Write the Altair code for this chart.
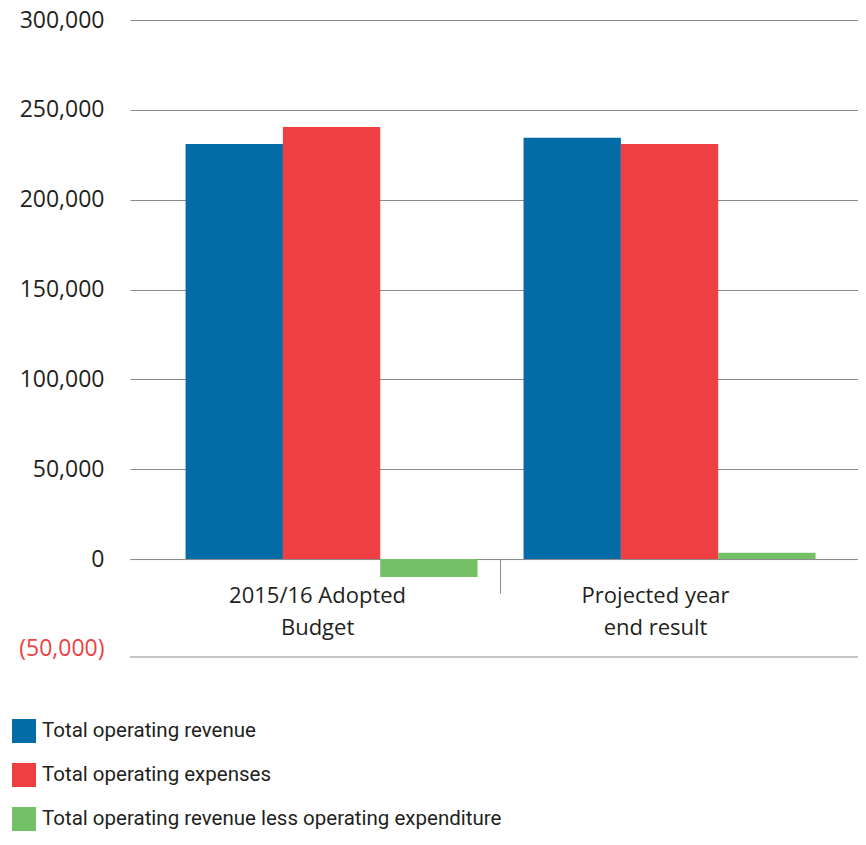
import altair as alt
import pandas as pd

CATEGORIES = ["2015/16 Adopted\nBudget", "Projected year\nend result"]
SERIES = [
    "Total operating revenue",
    "Total operating expenses",
    "Total operating revenue less operating expenditure",
]
COLORS = ["#036BA5", "#EE3F43", "#74C067"]
REVENUE = [231000, 234500]
EXPENSES = [240500, 231000]
NET = [-10000, 3500]
Y_TICKS = [-50000, 0, 50000, 100000, 150000, 200000, 250000, 300000]
Y_MIN = -54500
Y_MAX = 300000

rows = []
for i, c in enumerate(CATEGORIES):
    for s, vals in zip(SERIES, [REVENUE, EXPENSES, NET]):
        rows.append({"category": c, "series": s, "value": vals[i]})
df = pd.DataFrame(rows)

W, H = 728, 637
GRID = "#8c8c8c"
TEXT = "#231F20"
AXIS_FONT = "Open Sans"
LEGEND_FONT = "Roboto"

zero_offset = -(0 - Y_MIN) / (Y_MAX - Y_MIN) * H

y_scale = alt.Scale(domain=[Y_MIN, Y_MAX], nice=False, zero=False)

bars = alt.Chart(df).mark_bar().encode(
    x=alt.X(
        "category:N",
        sort=CATEGORIES,
        scale=alt.Scale(paddingInner=0.136, paddingOuter=0.145, align=0.567),
        axis=alt.Axis(
            title=None,
            orient="bottom",
            offset=zero_offset,
            domainColor=GRID,
            domainWidth=1,
            tickColor=GRID,
            tickWidth=1,
            tickSize=34,
            bandPosition=-0.0788,
            tickOpacity={"condition": {"test": "datum.index == 0", "value": 0}, "value": 1},
            labelExpr="split(datum.label, '\\n')",
            labelOffset=-14,
            labelPadding=-8,
            labelAngle=0,
            labelFont=AXIS_FONT,
            labelFontSize=22,
            labelLineHeight=32,
            labelColor=TEXT,
            grid=False,
        ),
    ),
    xOffset=alt.XOffset("series:N", sort=SERIES),
    y=alt.Y(
        "value:Q",
        scale=y_scale,
        axis=alt.Axis(
            title=None,
            values=Y_TICKS,
            labelExpr="datum.value < 0 ? '(' + format(-datum.value, ',') + ')' : format(datum.value, ',')",
            labelColor={"condition": {"test": "datum.value < 0", "value": "#EE3F43"}, "value": TEXT},
            gridOpacity={"condition": {"test": "datum.value < 0", "value": 0}, "value": 1},
            gridColor=GRID,
            gridWidth=1,
            domain=False,
            ticks=False,
            labelPadding=26,
            labelFont=AXIS_FONT,
            labelFontSize=23,
        ),
    ),
    color=alt.Color(
        "series:N",
        sort=SERIES,
        scale=alt.Scale(domain=SERIES, range=COLORS),
        legend=alt.Legend(
            title=None,
            orient="none",
            legendX=-118,
            legendY=699,
            direction="vertical",
            symbolType="square",
            symbolSize=576,
            symbolStrokeWidth=0,
            labelFont=LEGEND_FONT,
            labelFontSize=20.5,
            labelColor=TEXT,
            labelLimit=700,
            labelOffset=6,
            rowPadding=20,
            padding=0,
        ),
    ),
)

bottom = alt.Chart(pd.DataFrame({"value": [Y_MIN]})).mark_rule(color=GRID, strokeWidth=1).encode(
    y=alt.Y("value:Q", scale=y_scale)
)

chart = alt.layer(bars, bottom).properties(
    width=W,
    height=H,
    autosize=alt.AutoSizeParams(type="none"),
    padding={"left": 122, "top": 12, "right": 0, "bottom": 174},
    background="white",
).configure_view(stroke=None)

chart.save("out.html", embed_options={"renderer": "svg", "actions": False})
